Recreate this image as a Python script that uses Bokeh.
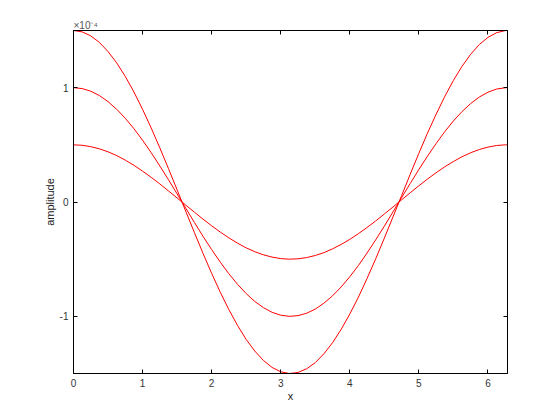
from bokeh.plotting import figure
from bokeh.models import Range1d, LinearAxis, FixedTicker
from bokeh.embed import file_html
from bokeh.resources import INLINE

# x positions (radians) and amplitude values in units of 1e-4
x = [0, 0.125, 0.25, 0.375, 0.5, 0.625, 0.75, 0.875, 1.0, 1.125, 1.25, 1.375, 1.5, 1.625,
     1.75, 1.875, 2.0, 2.125, 2.25, 2.375, 2.5, 2.625, 2.75, 2.875, 3.0, 3.125, 3.25, 3.375,
     3.5, 3.625, 3.75, 3.875, 4.0, 4.125, 4.25, 4.375, 4.5, 4.625, 4.75, 4.875, 5.0, 5.125,
     5.25, 5.375, 5.5, 5.625, 5.75, 5.875, 6.0, 6.125, 6.25, 6.28]
amp_small = [0.500, 0.496, 0.484, 0.465, 0.439, 0.406, 0.366, 0.321, 0.270, 0.216, 0.158, 0.097,
             0.035, -0.027, -0.089, -0.150, -0.208, -0.263, -0.314, -0.360, -0.401, -0.435,
             -0.462, -0.482, -0.495, -0.500, -0.497, -0.486, -0.468, -0.443, -0.410, -0.371,
             -0.327, -0.277, -0.223, -0.166, -0.105, -0.044, 0.019, 0.081, 0.142, 0.201, 0.256,
             0.308, 0.354, 0.396, 0.431, 0.459, 0.480, 0.494, 0.500, 0.500]
amp_mid = [1.000, 0.992, 0.969, 0.931, 0.878, 0.811, 0.732, 0.641, 0.540, 0.431, 0.315, 0.195,
           0.071, -0.054, -0.178, -0.300, -0.416, -0.526, -0.628, -0.720, -0.801, -0.870,
           -0.924, -0.965, -0.990, -1.000, -0.994, -0.973, -0.937, -0.885, -0.821, -0.743,
           -0.654, -0.555, -0.446, -0.331, -0.211, -0.087, 0.038, 0.162, 0.284, 0.401, 0.512,
           0.615, 0.709, 0.791, 0.861, 0.918, 0.960, 0.988, 0.999, 1.000]
amp_large = [1.500, 1.488, 1.453, 1.396, 1.316, 1.217, 1.098, 0.962, 0.810, 0.647, 0.473, 0.292,
             0.106, -0.081, -0.267, -0.449, -0.624, -0.789, -0.942, -1.080, -1.202, -1.304,
             -1.386, -1.447, -1.485, -1.500, -1.491, -1.459, -1.405, -1.328, -1.231, -1.114,
             -0.980, -0.832, -0.669, -0.497, -0.316, -0.131, 0.056, 0.243, 0.426, 0.602, 0.768,
             0.923, 1.063, 1.187, 1.292, 1.377, 1.440, 1.481, 1.499, 1.500]
x_ticks = [0, 1, 2, 3, 4, 5, 6]
y_ticks = [-1, 0, 1]
y_tick_labels = {-1: "-1", 0: "0", 1: "1"}
exponent_text = "×10⁻⁴"

FONT = "Liberation Sans"
TXT = "#333333"

p = figure(width=544, height=404, output_backend="svg", toolbar_location=None,
           x_range=Range1d(0, 6.2832), y_range=Range1d(-1.5, 1.5),
           min_border_left=73, min_border_right=37, min_border_top=30, min_border_bottom=30,
           background_fill_color="white", border_fill_color="white")
p.xgrid.visible = False
p.ygrid.visible = False
p.outline_line_color = "black"
p.outline_line_width = 1
p.outline_line_alpha = 1

p.title.text = exponent_text
p.title.align = "left"
p.title.text_font = FONT
p.title.text_font_size = "10px"
p.title.text_font_style = "normal"
p.title.text_color = "#555555"
p.title.standoff = 0
p.title.offset = 0

for series in (amp_large, amp_mid, amp_small):
    p.line(x, series, line_color="#ff0000", line_width=1)

def style(ax, ticks, labels=True):
    ax.ticker = FixedTicker(ticks=ticks)
    ax.major_tick_in = 4
    ax.major_tick_out = 0
    ax.minor_tick_in = 0
    ax.minor_tick_out = 0
    ax.axis_line_color = "black"
    ax.major_tick_line_color = "black"
    ax.major_label_text_font = FONT
    ax.major_label_text_font_size = "10px"
    ax.major_label_text_color = TXT
    ax.major_label_standoff = 5 if labels else 0
    ax.axis_label_text_font = FONT
    ax.axis_label_text_font_size = "11px"
    ax.axis_label_text_font_style = "normal"
    ax.axis_label_text_color = "#222222"
    ax.axis_label_standoff = 0
    if not labels:
        ax.major_label_overrides = {t: "" for t in ticks}

style(p.xaxis[0], x_ticks)
style(p.yaxis[0], y_ticks)
p.xaxis[0].axis_label = "x"
p.yaxis[0].axis_label = "amplitude"
p.yaxis[0].major_label_overrides = y_tick_labels
p.yaxis[0].axis_label_standoff = 1

top = LinearAxis()
style(top, x_ticks, labels=False)
p.add_layout(top, "above")
right = LinearAxis()
style(right, y_ticks, labels=False)
p.add_layout(right, "right")

open("out.html", "w").write(file_html(p, INLINE))
